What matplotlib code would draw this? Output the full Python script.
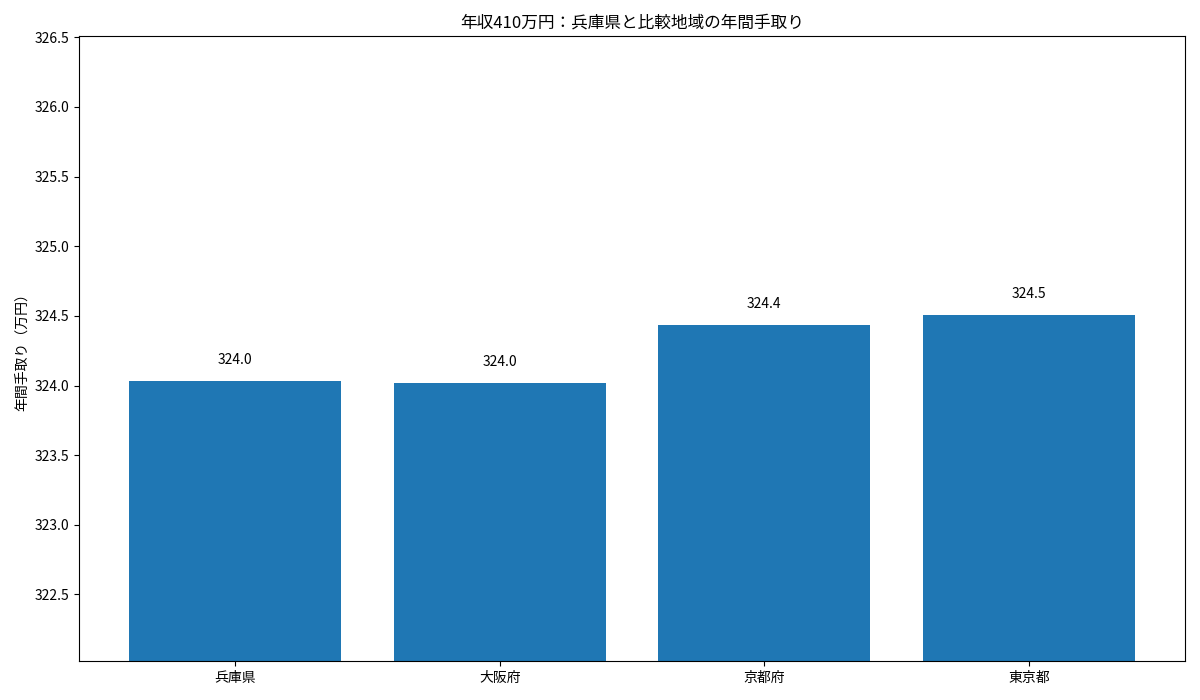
import matplotlib
matplotlib.use("Agg")
import matplotlib.pyplot as plt

plt.rcParams['font.family'] = ['Noto Sans CJK JP', 'DejaVu Sans']

regions = ["兵庫県", "大阪府", "京都府", "東京都"]
takehome = [324.03, 324.02, 324.435, 324.507]
title = "年収410万円：兵庫県と比較地域の年間手取り"
ylabel = "年間手取り（万円）"

fig, ax = plt.subplots(figsize=(12, 7), dpi=100)
bars = ax.bar(regions, takehome, color="#1f77b4", width=0.8)
for b, v in zip(bars, takehome):
    ax.text(b.get_x() + b.get_width() / 2, v + 0.1, f"{v:.1f}",
            ha="center", va="bottom", fontsize=10)
ax.set_ylim(min(takehome) - 2, max(takehome) + 2)
ax.set_title(title, fontsize=12)
ax.set_ylabel(ylabel, fontsize=10)
fig.tight_layout()
fig.savefig("out.png")
